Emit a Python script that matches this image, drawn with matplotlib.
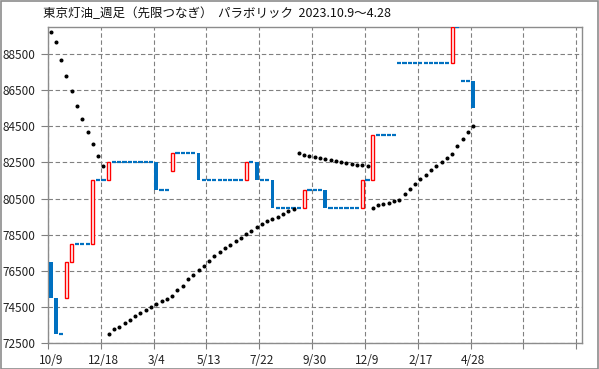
import matplotlib
matplotlib.use("Agg")
import matplotlib.pyplot as plt
from matplotlib.patches import Rectangle

plt.rcParams['font.family'] = ['Noto Sans CJK JP', 'DejaVu Sans']

# weekly bars (open / close), 2023.10.9 ~
opens = [77000, 75000, 73000, 75000, 77000, 78000, 78000, 78000, 78000, 81500,
         81500, 81500, 82500, 82500, 82500, 82500, 82500, 82500, 82500, 82500,
         82500, 81000, 81000, 82000, 83000, 83000, 83000, 83000, 83000, 81500,
         81500, 81500, 81500, 81500, 81500, 81500, 81500, 81500, 82500, 82500,
         81500, 81500, 81500, 80000, 80000, 80000, 80000, 80000, 80000, 81000,
         81000, 81000, 81000, 80000, 80000, 80000, 80000, 80000, 80000, 80000,
         81500, 81500, 84000, 84000, 84000, 84000, 88000, 88000, 88000, 88000,
         88000, 88000, 88000, 88000, 88000, 88000, 88000, 90000, 87000, 87000,
         87000]
closes = [75000, 73000, 73000, 77000, 78000, 78000, 78000, 78000, 81500, 81500,
          81500, 82500, 82500, 82500, 82500, 82500, 82500, 82500, 82500, 82500,
          81000, 81000, 81000, 83000, 83000, 83000, 83000, 83000, 81500, 81500,
          81500, 81500, 81500, 81500, 81500, 81500, 81500, 82500, 82500, 81500,
          81500, 81500, 80000, 80000, 80000, 80000, 80000, 80000, 81000, 81000,
          81000, 81000, 80000, 80000, 80000, 80000, 80000, 80000, 80000, 81500,
          81500, 84000, 84000, 84000, 84000, 84000, 88000, 88000, 88000, 88000,
          88000, 88000, 88000, 88000, 88000, 88000, 90000, 90000, 87000, 87000,
          85500]
sar = [89700, 89150, 88150, 87270, 86450, 85600, 84880, 84160, 83500, 82830,
       82280, 73000, 73260, 73410, 73580, 73790, 73980, 74160, 74320, 74500,
       74660, 74820, 74930, 75090, 75420, 75670, 76030, 76270, 76530, 76780,
       77030, 77300, 77530, 77750, 77930, 78130, 78330, 78540, 78720, 78930,
       79090, 79240, 79370, 79480, 79650, 79800, 79910, 83000, 82900, 82850,
       82790, 82740, 82700, 82650, 82590, 82540, 82480, 82410, 82370, 82350,
       82300, 80000, 80130, 80180, 80260, 80350, 80410, 80740, 81020, 81290,
       81570, 81790, 82070, 82290, 82510, 82730, 82950, 83400, 83790, 84170,
       84500]
date_labels = ['10/9', '12/18', '3/4', '5/13', '7/22', '9/30', '12/9', '2/17', '4/28']
y_ticks = [72500, 74500, 76500, 78500, 80500, 82500, 84500, 86500, 88500]

BLUE = '#0070C0'
RED = '#FF0000'
GRID = '#808080'

fig = plt.figure(figsize=(5.99, 3.69), dpi=100)
fig.patches.append(Rectangle((0.001, 0.001), 0.997, 0.996, transform=fig.transFigure,
                             fill=False, edgecolor='#8c8c8c', linewidth=1.2))
ax = fig.add_axes([48 / 599, 1 - 343 / 369, 534 / 599, 316 / 369])

xs = [i + 0.5 for i in range(len(opens))]

up_x, up_b, up_h = [], [], []
dn_x, dn_b, dn_h = [], [], []
dj_x, dj_y = [], []
for x, o, c in zip(xs, opens, closes):
    if c > o:
        up_x.append(x); up_b.append(o); up_h.append(c - o)
    elif c < o:
        dn_x.append(x); dn_b.append(c); dn_h.append(o - c)
    else:
        dj_x.append(x); dj_y.append(c)

ax.bar(dn_x, dn_h, bottom=dn_b, width=0.72, color=BLUE, linewidth=0, zorder=3)
ax.bar(up_x, up_h, bottom=up_b, width=0.58, facecolor='white', edgecolor=RED,
       linewidth=1.0, zorder=3)
ax.hlines(dj_y, [x - 0.4 for x in dj_x], [x + 0.4 for x in dj_x], color=BLUE,
          linewidth=1.6, zorder=3)

# parabolic SAR
ax.plot(xs, sar, linestyle='none', marker='o', markersize=1.9, color='black', zorder=4)

ax.set_xlim(0, 101.1)
ax.set_ylim(72500, 90000)

ax.set_xticks(range(0, 101, 10))
ax.set_xticklabels([])
ax.set_xticks([i * 10 + 0.5 for i in range(len(date_labels))], minor=True)
ax.set_xticklabels(date_labels, minor=True)
ax.set_yticks(y_ticks)
ax.set_yticklabels([str(v) for v in y_ticks])

ax.tick_params(axis='x', which='major', direction='out', length=4, width=0.8, color=GRID)
ax.tick_params(axis='x', which='minor', length=0, pad=8, labelsize=8.5, labelcolor='#222222')
ax.tick_params(axis='y', direction='out', length=5, width=0.8, color=GRID,
               pad=4, labelsize=8.5, labelcolor='#222222')

ax.grid(True, which='major', color=GRID, linestyle=(0, (4, 2.4)), linewidth=0.8)
ax.set_axisbelow(True)
for s in ax.spines.values():
    s.set_color('#8c8c8c')
    s.set_linewidth(1.0)

fig.text(43 / 599, 1 - 14 / 369,
         '東京灯油_週足（先限つなぎ）  パラボリック  2023.10.9〜4.28',
         ha='left', va='center', fontsize=9, color='#111111')

fig.savefig('out.png', dpi=100)
